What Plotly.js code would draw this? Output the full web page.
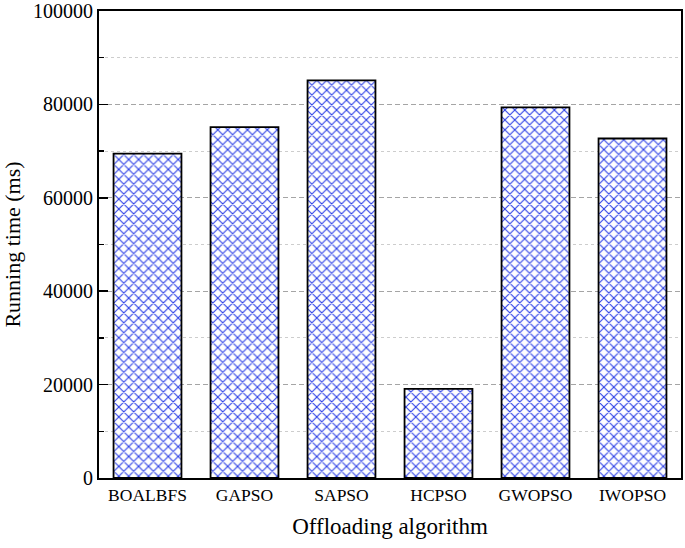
<!DOCTYPE html>
<html>
<head>
<meta charset="utf-8">
<script src="https://cdn.plot.ly/plotly-3.0.1.min.js"></script>
<style>
	body { margin: 0; background: #fff; }
	#chart { width: 685px; height: 548px; }
</style>
</head>
<body>
<div id="chart"></div>
<script>
// Running time per offloading algorithm
const algorithms = ["BOALBFS", "GAPSO", "SAPSO", "HCPSO", "GWOPSO", "IWOPSO"];
const runningTimes = [69450, 75150, 85150, 19100, 79350, 72700];
const yTickValues = [0, 20000, 40000, 60000, 80000, 100000];
const yMinorValues = [10000, 30000, 50000, 70000, 90000];

const serif = "'Liberation Serif', 'Times New Roman', serif";

const trace = {
	type: "bar",
	x: algorithms,
	y: runningTimes,
	marker: {
		color: "white",
		line: { color: "black", width: 1.8 },
		pattern: {
			shape: "x",
			fgcolor: "rgb(40, 60, 230)",
			bgcolor: "white",
			size: 7,
			solidity: 0.28,
		},
	},
	hoverinfo: "x+y",
};

const layout = {
	width: 685,
	height: 548,
	margin: { l: 99, r: 4, t: 11, b: 70 },
	paper_bgcolor: "white",
	plot_bgcolor: "white",
	showlegend: false,
	bargap: 0.3,
	font: { family: serif, color: "black" },
	xaxis: {
		type: "category",
		showline: true,
		linecolor: "black",
		linewidth: 2,
		mirror: true,
		ticks: "",
		showgrid: false,
		tickfont: { family: serif, size: 17.5 },
		title: {
			text: "Offloading algorithm",
			font: { family: serif, size: 23 },
			standoff: 14,
		},
	},
	yaxis: {
		range: [0, 100000],
		tickvals: yTickValues,
		ticktext: yTickValues.map(String),
		showline: true,
		linecolor: "black",
		linewidth: 2,
		mirror: true,
		ticks: "inside",
		ticklen: 9,
		tickwidth: 1.5,
		tickcolor: "black",
		showgrid: true,
		gridcolor: "rgb(165, 165, 165)",
		griddash: "5px,3px",
		gridwidth: 1,
		zeroline: false,
		tickfont: { family: serif, size: 20 },
		minor: {
			tickmode: "array",
			tickvals: yMinorValues,
			ticks: "inside",
			ticklen: 5,
			tickwidth: 1.5,
			tickcolor: "black",
			showgrid: true,
			gridcolor: "rgb(205, 205, 205)",
			griddash: "dot",
			gridwidth: 1,
		},
		title: {
			text: "Running time (ms)",
			font: { family: serif, size: 22 },
			standoff: 8,
		},
	},
};

Plotly.newPlot("chart", [trace], layout, { displayModeBar: false, staticPlot: true });
</script>
</body>
</html>
